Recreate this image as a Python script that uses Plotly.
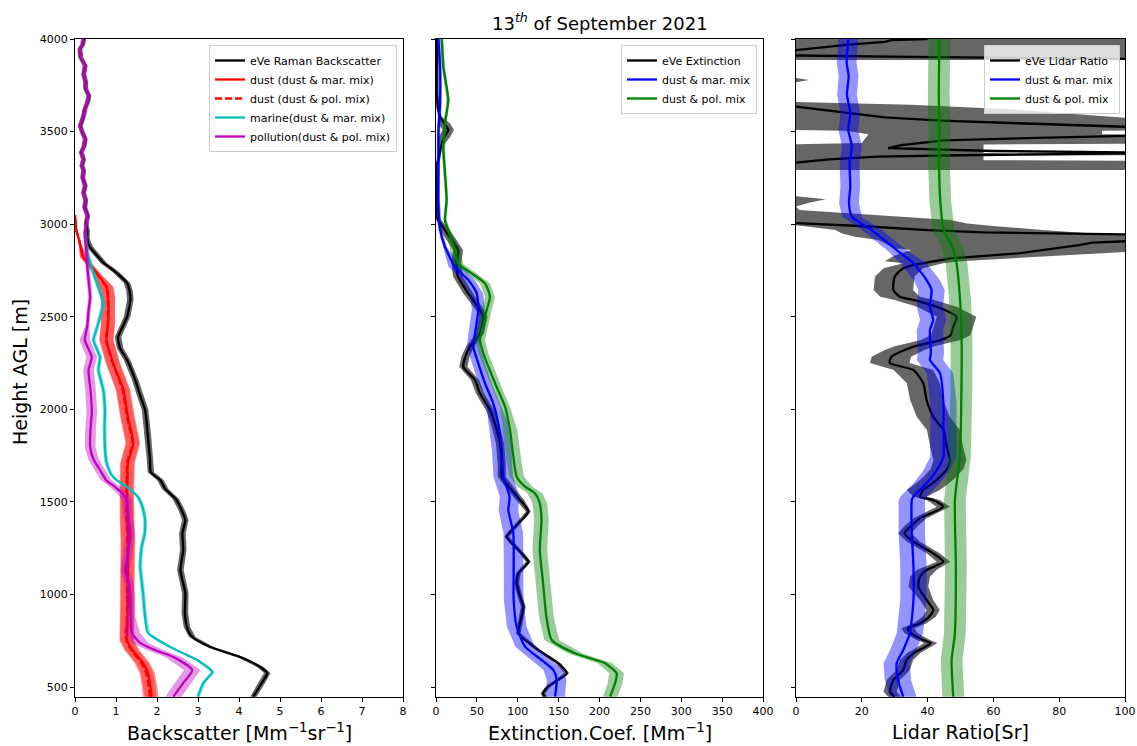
import plotly.graph_objects as go

W, H = 1137, 746

# ---------------- Backscatter [Mm^-1 sr^-1] ----------------
bsc_eve_h = [448, 527, 575, 608, 662, 716, 770, 824, 900, 1008, 1132, 1240, 1330, 1402, 1456, 1515,
             1570, 1618, 1660, 1726, 1850, 1996, 2080, 2158, 2266, 2330, 2390, 2440, 2500, 2590, 2640,
             2682, 2740, 2790, 2840, 2880, 2920, 2968, 3000, 3046, 3090, 3130, 3170, 3208, 3250, 3290,
             3316, 3350, 3388, 3420, 3460, 3500, 3532, 3560, 3586, 3620, 3660, 3694, 3730, 3770, 3810,
             3856, 3900, 3946, 3970, 4000]
bsc_eve = [4.35, 4.57, 4.69, 4.52, 4.03, 3.30, 2.86, 2.73, 2.68, 2.69, 2.57, 2.64, 2.62, 2.69, 2.60, 2.46,
           2.20, 2.08, 1.85, 1.83, 1.78, 1.71, 1.58, 1.47, 1.27, 1.10, 1.05, 1.15, 1.27, 1.35, 1.33,
           1.27, 1.00, 0.70, 0.50, 0.35, 0.30, 0.30, 0.27, 0.31, 0.24, 0.26, 0.21, 0.25, 0.19, 0.21,
           0.17, 0.21, 0.15, 0.22, 0.25, 0.17, 0.13, 0.18, 0.21, 0.24, 0.31, 0.34, 0.26, 0.26, 0.21,
           0.25, 0.14, 0.12, 0.19, 0.21]
bsc_eve_err = [(0, 0.08), (2900, 0.06)]

bsc_dust_h = [448, 500, 575, 629, 700, 754, 850, 970, 1148, 1300, 1400, 1526, 1620, 1710, 1818, 1958,
              2104, 2250, 2374, 2466, 2606, 2660, 2736, 2790, 2823, 2915, 2968, 3050]
bsc_dust_mar = [1.87, 1.84, 1.78, 1.66, 1.40, 1.27, 1.28, 1.29, 1.29, 1.30, 1.28, 1.27, 1.28, 1.29, 1.42,
                1.29, 1.18, 0.93, 0.77, 0.81, 0.81, 0.77, 0.53, 0.33, 0.20, 0.10, 0.03, 0.00]
bsc_dust_pol = [1.82, 1.80, 1.74, 1.62, 1.37, 1.25, 1.26, 1.27, 1.27, 1.28, 1.26, 1.25, 1.26, 1.27, 1.40,
                1.27, 1.16, 0.92, 0.76, 0.80, 0.80, 0.76, 0.52, 0.32, 0.20, 0.10, 0.03, 0.00]
bsc_dust_err = [(0, 0.17), (2700, 0.08), (2850, 0.02)]

bsc_marine_h = [448, 522, 581, 646, 716, 792, 900, 1008, 1148, 1250, 1330, 1402, 1470, 1526, 1580, 1620,
                1656, 1720, 1796, 1900, 1996, 2104, 2212, 2282, 2374, 2450, 2574, 2606, 2700, 2790, 2850,
                2900, 2960]
bsc_marine = [3.00, 3.13, 3.35, 2.98, 2.32, 1.78, 1.70, 1.66, 1.59, 1.62, 1.70, 1.71, 1.65, 1.54, 1.27,
              1.00, 0.86, 0.76, 0.73, 0.72, 0.73, 0.69, 0.57, 0.61, 0.45, 0.55, 0.69, 0.65, 0.50, 0.37,
              0.30, 0.27, 0.25]
bsc_marine_err = [(0, 0.05)]

bsc_poll_h = [448, 522, 592, 662, 700, 738, 792, 880, 970, 1060, 1130, 1200, 1332, 1420, 1510, 1540, 1580,
              1620, 1672, 1730, 1796, 1900, 1980, 2100, 2212, 2282, 2374, 2450, 2530, 2606, 2700, 2790,
              2870, 2956, 3000, 3046, 3090, 3130, 3170, 3208, 3250, 3290, 3316, 3350, 3388, 3420, 3460,
              3500, 3532, 3560, 3586, 3620, 3660, 3694, 3730, 3770, 3810, 3856, 3900, 3946, 3970, 4000]
bsc_poll = [2.40, 2.64, 2.86, 2.40, 1.95, 1.59, 1.39, 1.36, 1.35, 1.32, 1.22, 1.28, 1.35, 1.30, 1.27, 1.18,
            0.98, 0.75, 0.61, 0.45, 0.37, 0.38, 0.41, 0.38, 0.33, 0.41, 0.24, 0.30, 0.33, 0.37, 0.33,
            0.29, 0.27, 0.24, 0.28, 0.30, 0.22, 0.26, 0.20, 0.24, 0.18, 0.20, 0.16, 0.20, 0.16, 0.22,
            0.24, 0.18, 0.12, 0.17, 0.20, 0.25, 0.30, 0.33, 0.27, 0.25, 0.22, 0.24, 0.15, 0.12, 0.18, 0.20]
bsc_poll_err = [(0, 0.2), (800, 0.11), (1500, 0.13), (2450, 0.05)]

# ---------------- Extinction [Mm^-1] ----------------
ext_eve_h = [448, 466, 502, 540, 574, 628, 700, 790, 844, 934, 1000, 1060, 1114, 1177, 1222, 1312, 1384,
             1447, 1510, 1564, 1636, 1708, 1816, 1924, 1996, 2086, 2158, 2230, 2284, 2338, 2410, 2500,
             2536, 2626, 2716, 2788, 2860, 2968, 3040, 3100, 3200, 3310, 3346, 3420, 3470, 3508, 3545,
             3580, 3616, 3700, 3800, 3900, 4000]
ext_eve = [133, 131, 137, 150, 160, 149.6, 125, 100.7, 102.8, 106.8, 102, 98.7, 100.7, 113, 104.8, 86.5,
           100.7, 113, 103, 92.6, 80.4, 80.4, 78.3, 72, 66, 53.8, 47.7, 33.4, 36, 41.6, 53.8, 57.9, 53.8,
           39.5, 27, 25, 27, 11, 0.8, 0.5, 1, 0, 2.9, 6, 10, 15, 10, 5, 2.9, 1, 0.8, 1, 0.8]
ext_eve_err = [(0, 3), (1450, 5), (2600, 6), (3000, 2), (3440, 7), (3580, 2)]

ext_mar_h = [448, 538, 592, 646, 718, 826, 970, 1150, 1330, 1456, 1528, 1636, 1780, 1924, 2032, 2140, 2248,
             2338, 2410, 2536, 2626, 2698, 2770, 2878, 2973, 3130, 3300, 3500, 3650, 3850, 4000]
ext_mar = [145.6, 147.6, 143.5, 129, 109, 98.7, 95, 95, 94.6, 88.5, 90, 82.3, 80.4, 76.2, 70, 60, 51.8,
           45.6, 47.7, 51.8, 49.8, 39.5, 23.2, 11, 4.9, 2.8, 3, 3, 4.9, 4.9, 2.9]
ext_mar_err = [(0, 12), (2000, 8), (2800, 2)]

ext_pol_h = [448, 520, 574, 628, 682, 754, 880, 1060, 1240, 1402, 1492, 1546, 1582, 1636, 1744, 1888, 2014,
             2122, 2230, 2302, 2374, 2446, 2536, 2608, 2680, 2734, 2788, 2860, 2968, 3022, 3130, 3275,
             3400, 3545, 3670, 3850, 4000]
ext_pol = [213, 219, 221, 206.7, 170, 141.5, 135, 131, 127, 129, 127, 121, 109, 98.7, 94.6, 90.5, 84.4, 74,
           64, 57.9, 53.8, 57.9, 62, 66, 60, 43.6, 27, 23.2, 15, 11, 13, 11, 9, 11, 15, 9, 7]
ext_pol_err = [(0, 9), (2000, 6), (2900, 2)]

# ---------------- Lidar ratio [sr] ----------------
lr_eve_low_h = [448, 475, 538, 592, 646, 682, 737, 754, 790, 817, 844, 880, 916, 970, 1042, 1096, 1132,
                1177, 1222, 1285, 1330, 1370, 1411, 1474, 1510, 1528, 1564, 1600, 1636, 1680, 1726, 1798,
                1888, 1960, 2050, 2140, 2212, 2250, 2284, 2320, 2340, 2374, 2400, 2446, 2500, 2554, 2590,
                2608, 2644, 2716, 2762, 2789]
lr_eve_low = [30, 28.6, 29.6, 32.6, 33.6, 35.7, 41, 38.7, 35, 34, 37.7, 40.5, 41.7, 39.7, 37.2, 37.7, 39.7,
              44.8, 41.7, 35.7, 33, 35, 37.7, 44.8, 41.7, 37.7, 38.7, 41.5, 43.8, 46, 46.8, 45.8, 44.8,
              41.7, 39.7, 38.7, 35.7, 28.5, 29, 33, 36, 44, 47, 47.8, 48.8, 42.8, 36, 31.6, 29.6, 30,
              32.6, 38.7]
lr_eve_low_err = [(0, 2), (980, 3), (1150, 2), (1530, 5), (2200, 6)]

# upper, noisy part of the eVe lidar ratio (None marks missing retrievals)
lr_eve_top_h = [2789, 2806, 2815, 2842, 2870, 2887, 2900, 2915, 2935, 2945, 2955, 2968, 2990, 3004, 3010, None,
                3320, 3332, 3350, 3365, 3372, 3378, 3385, 3395, 3411, 3427, 3438, 3452, 3465, 3480, 3500,
                3515, 3526, 3545, 3559, 3577, 3607, 3634, 3645, None,
                3888, 3897, 3903, 3912, 3925, 3940, 3955, 3970, 3985, 3994, 4000]
lr_eve_top = [38.7, 44, 47, 67.6, 80, 86, 90, 110, 115, 100, 57, 40, 19.5, 0, -5, None,
              -5, 0, 10, 25, 50, 100, 115, 60, 28, 32, 38, 45, 70, 110, 125,
              112, 100, 67.5, 44, 27, 12, 0, -5, None,
              130, 60, 35, -5, -5, 0, 8, 16, 27, 29, 40]
lr_eve_band_h = [2789, 2800, 2830, 2850, 2860, 2870, 2914, 2932, 2950, 2968, 2990, 3004, 3022, 3050, 3077,
                 3095, 3115, 3135, 3150, None,
                 3292, 3340, 3345, 3370, 3376, 3384, 3430, 3438, 3480, 3485, 3505, 3510, 3570, 3595, 3620,
                 3645, 3660, None,
                 3767, 3778, 3790, None,
                 3887, 4000]
lr_eve_band_lo = [32.7, 27, 30, 33, 35, 30, 25, 18, 14, 12, 3, -5, -5, -5, -5,
                  -5, -5, -5, -5, None,
                  -5, -5, -5, -5, -5, -5, -5, 20, 22, 22, 15, -5, -5, -5, -5,
                  -5, -5, None,
                  -5, -5, -5, None,
                  -5, -5]
lr_eve_band_hi = [44.7, 50, 80, 100, 150, 150, 150, 150, 90, 75, 60, 52, 47, 25, 1,
                  0, 4, 9, 0, None,
                  150, 150, 57, 57, 150, 57, 57, 150, 150, 93, 93, 150, 105, 85, 65,
                  35, 0, None,
                  0, 4, 0, None,
                  150, 150]

lr_mar_h = [448, 538, 628, 700, 790, 970, 1150, 1330, 1510, 1528, 1600, 1672, 1744, 1888, 2032, 2194, 2266,
            2302, 2428, 2482, 2554, 2644, 2698, 2789, 2860, 2968, 3040, 3114, 3200, 3330, 3420, 3508,
            3600, 3700, 3800, 3870, 4000]
lr_mar = [32.6, 31, 30.6, 32.6, 34.6, 35.7, 35.7, 35.2, 35.2, 35.7, 39.7, 42.8, 44.8, 44.8, 44.8, 43.8,
          40.7, 41, 40.7, 41.7, 40.7, 41.2, 39.7, 35.7, 30.6, 23, 17, 16.1, 16.5, 16.3, 17, 15.9, 16.5,
          15.5, 16, 15.4, 15.9]
lr_mar_err = [(0, 4), (2800, 3)]

lr_pol_h = [448, 646, 790, 1150, 1510, 1744, 2122, 2428, 2608, 2789, 2878, 2968, 3114, 3300, 3500, 3700, 4000]
lr_pol = [47.8, 47.3, 48.3, 48.6, 48.3, 49.8, 50.3, 50.3, 49.8, 48.8, 47.5, 44.9, 43.9, 43.5, 43.6, 43.4, 43.6]
lr_pol_err = [(0, 3.3)]

y_ticks = [500, 1000, 1500, 2000, 2500, 3000, 3500, 4000]

for a, b in [(bsc_eve_h, bsc_eve), (bsc_dust_h, bsc_dust_mar), (bsc_dust_h, bsc_dust_pol),
             (bsc_marine_h, bsc_marine), (bsc_poll_h, bsc_poll), (ext_eve_h, ext_eve),
             (ext_mar_h, ext_mar), (ext_pol_h, ext_pol), (lr_eve_low_h, lr_eve_low),
             (lr_eve_top_h, lr_eve_top), (lr_eve_band_h, lr_eve_band_lo), (lr_eve_band_h, lr_eve_band_hi),
             (lr_mar_h, lr_mar), (lr_pol_h, lr_pol)]:
    assert len(a) == len(b), (len(a), len(b))


def half_width(h, table):
    w = table[0][1]
    for start, val in table:
        if h >= start:
            w = val
    return w


def band_polygon(h, lo, hi):
    """Closed outline between lo and hi, one polygon per run of non-missing values."""
    xs, ys, run = [], [], []
    for z, a, b in list(zip(h, lo, hi)) + [(None, None, None)]:
        if z is None:
            if run:
                zz = [r[0] for r in run]
                aa = [r[1] for r in run]
                bb = [r[2] for r in run]
                xs += aa + bb[::-1] + [aa[0], None]
                ys += zz + zz[::-1] + [zz[0], None]
            run = []
        else:
            run.append((z, a, b))
    return xs, ys


fig = go.Figure()
LW = 2.3


def add_band(h, lo, hi, fillcolor, ax):
    xs, ys = band_polygon(h, lo, hi)
    fig.add_trace(go.Scatter(x=xs, y=ys, xaxis="x" + ax, yaxis="y" + ax, mode="lines",
                             fill="toself", fillcolor=fillcolor,
                             line=dict(width=0, color="rgba(0,0,0,0)"),
                             hoverinfo="skip", showlegend=False))


def add_line(h, x, color, name, ax, legend, dash="solid", shape="spline", show=True):
    fig.add_trace(go.Scatter(x=x, y=h, xaxis="x" + ax, yaxis="y" + ax, mode="lines", name=name,
                             line=dict(color=color, width=LW, dash=dash, shape=shape, smoothing=0.6),
                             legend=legend, showlegend=show, hoverinfo="skip"))


def add_profile(h, x, table, color, fillcolor, name, ax, legend, dash="solid"):
    lo = [v - half_width(z, table) for z, v in zip(h, x)]
    hi = [v + half_width(z, table) for z, v in zip(h, x)]
    add_band(h, lo, hi, fillcolor, ax)
    add_line(h, x, color, name, ax, legend, dash)


BLACK, RED, CYAN, MAG, BLUE, GREEN = "#000000", "#ff0000", "#00bfbf", "#bf00bf", "#0000ff", "#008000"
F_BLACK = "rgba(0,0,0,0.6)"
F_RED = "rgba(255,0,0,0.4)"
F_CYAN = "rgba(0,191,191,0.4)"
F_MAG = "rgba(191,0,191,0.4)"
F_BLUE = "rgba(0,0,255,0.42)"
F_GREEN = "rgba(0,128,0,0.4)"

# panel 1: backscatter
add_profile(bsc_eve_h, bsc_eve, bsc_eve_err, BLACK, F_BLACK, "eVe Raman Backscatter", "", "legend")
add_profile(bsc_dust_h, bsc_dust_mar, bsc_dust_err, RED, F_RED, "dust (dust &amp; mar. mix)", "", "legend")
add_profile(bsc_dust_h, bsc_dust_pol, bsc_dust_err, RED, F_RED, "dust (dust &amp; pol. mix)", "", "legend",
            dash="7px,3px")
add_profile(bsc_marine_h, bsc_marine, bsc_marine_err, CYAN, F_CYAN, "marine(dust &amp; mar. mix)", "", "legend")
add_profile(bsc_poll_h, bsc_poll, bsc_poll_err, MAG, F_MAG, "pollution(dust &amp; pol. mix)", "", "legend")

# panel 2: extinction
add_profile(ext_eve_h, ext_eve, ext_eve_err, BLACK, F_BLACK, "eVe Extinction", "2", "legend2")
add_profile(ext_mar_h, ext_mar, ext_mar_err, BLUE, F_BLUE, "dust &amp; mar. mix", "2", "legend2")
add_profile(ext_pol_h, ext_pol, ext_pol_err, GREEN, F_GREEN, "dust &amp; pol. mix", "2", "legend2")

# panel 3: lidar ratio
lo_low = [v - half_width(z, lr_eve_low_err) for z, v in zip(lr_eve_low_h, lr_eve_low)]
hi_low = [v + half_width(z, lr_eve_low_err) for z, v in zip(lr_eve_low_h, lr_eve_low)]
add_band(lr_eve_low_h + [None] + lr_eve_band_h, lo_low + [None] + lr_eve_band_lo,
         hi_low + [None] + lr_eve_band_hi, F_BLACK, "3")
add_line(lr_eve_low_h, lr_eve_low, BLACK, "eVe Lidar Ratio", "3", "legend3")
add_line(lr_eve_top_h, lr_eve_top, BLACK, "eVe Lidar Ratio", "3", "legend3", shape="linear", show=False)
add_profile(lr_mar_h, lr_mar, lr_mar_err, BLUE, F_BLUE, "dust &amp; mar. mix", "3", "legend3")
add_profile(lr_pol_h, lr_pol, lr_pol_err, GREEN, F_GREEN, "dust &amp; pol. mix", "3", "legend3")

# ---------------- layout ----------------
axis_style = dict(showline=True, linecolor="black", linewidth=1, mirror=True, ticks="outside", ticklen=4,
                  tickwidth=1, tickcolor="black", showgrid=False, zeroline=False, automargin=False,
                  tickfont=dict(size=11, color="black"))
y_dom = [1 - 697 / H, 1 - 39 / H]
x_doms = [[75 / W, 403 / W], [436 / W, 763 / W], [796 / W, 1125 / W]]

legend_style = dict(xanchor="right", yanchor="top", bgcolor="rgba(255,255,255,0.8)", bordercolor="#cccccc",
                    borderwidth=1, font=dict(size=11, color="black"), itemwidth=30, tracegroupgap=0)

fig.update_layout(
    width=W, height=H, margin=dict(l=0, r=0, t=0, b=0),
    paper_bgcolor="white", plot_bgcolor="white",
    font=dict(family="DejaVu Sans", size=11, color="black"),
    showlegend=True,
    xaxis=dict(domain=x_doms[0], range=[0, 8], dtick=1, anchor="y", **axis_style),
    xaxis2=dict(domain=x_doms[1], range=[0, 400], dtick=50, anchor="y2", **axis_style),
    xaxis3=dict(domain=x_doms[2], range=[0, 100], dtick=20, anchor="y3", **axis_style),
    yaxis=dict(domain=y_dom, range=[446, 4000], tickvals=y_ticks, anchor="x", **axis_style),
    yaxis2=dict(domain=y_dom, range=[446, 4000], tickvals=y_ticks, anchor="x2", matches="y",
                showticklabels=False, **axis_style),
    yaxis3=dict(domain=y_dom, range=[446, 4000], tickvals=y_ticks, anchor="x3", matches="y",
                showticklabels=False, **axis_style),
    legend=dict(x=397 / W, y=1 - 45 / H, **legend_style),
    legend2=dict(x=757 / W, y=1 - 45 / H, **legend_style),
    legend3=dict(x=1120 / W, y=1 - 45 / H, **legend_style),
)

labels = [
    (239 / W, 1 - 732 / H, "Backscatter [Mm<sup>−1</sup>sr<sup>−1</sup>]", 0),
    (600 / W, 1 - 732 / H, "Extinction.Coef. [Mm<sup>−1</sup>]", 0),
    (960 / W, 1 - 732 / H, "Lidar Ratio[Sr]", 0),
    (20 / W, 1 - 372 / H, "Height AGL [m]", -90),
    (600 / W, 1 - 22 / H, "13<sup><i>th</i></sup> of September 2021", 0),
]
for x, y, text, ang in labels:
    fig.add_annotation(x=x, y=y, xref="paper", yref="paper", text=text, showarrow=False,
                       xanchor="center", yanchor="middle", textangle=ang,
                       font=dict(size=19 if "13" not in text else 18, color="black"))

fig.write_html("out.html")
